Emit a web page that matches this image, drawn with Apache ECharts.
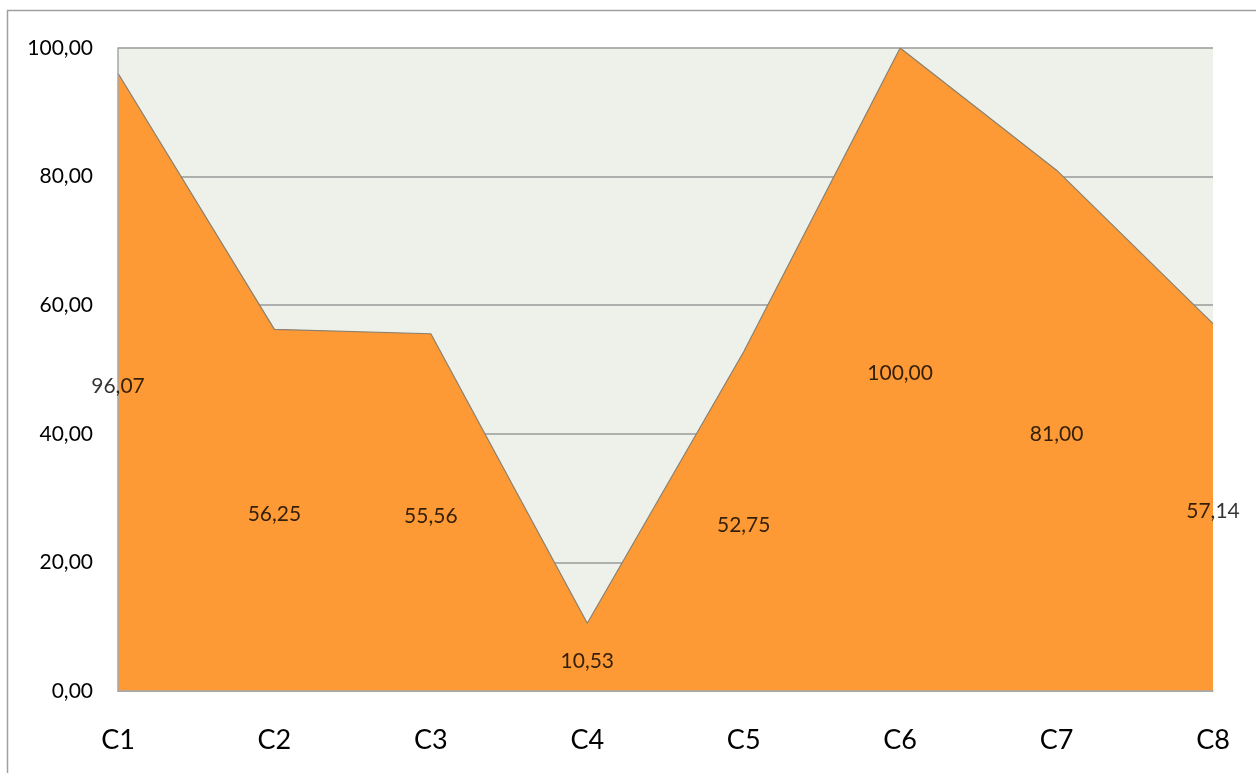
<!DOCTYPE html>
<html>
<head>
<meta charset="utf-8">
<style>
html,body{margin:0;padding:0;background:#fff;}
#chart{width:1256px;height:773px;}
</style>
<script src="https://cdn.jsdelivr.net/npm/echarts@6/dist/echarts.min.js"></script>
</head>
<body>
<div id="chart"></div>
<script>
var categories = ['C1','C2','C3','C4','C5','C6','C7','C8'];
var values = [96.07, 56.25, 55.56, 10.53, 52.75, 100.00, 81.00, 57.14];
var yTicks = [0, 20, 40, 60, 80, 100];

function fmt(v){ return v.toFixed(2).replace('.', ','); }

var labelPoints = values.map(function(v, i){ return [i, v / 2]; });

var chart = echarts.init(document.getElementById('chart'));
chart.setOption({
  animation: false,
  textStyle: { fontFamily: 'Lato, "Open Sans", sans-serif' },
  graphic: [
    { type: 'line', shape: { x1: 7, y1: 10.5, x2: 1256, y2: 10.5 }, style: { stroke: '#a0a0a0', lineWidth: 1.5 } },
    { type: 'line', shape: { x1: 7.5, y1: 10, x2: 7.5, y2: 773 }, style: { stroke: '#a0a0a0', lineWidth: 1.5 } }
  ],
  grid: { left: 118, right: 43, top: 48, bottom: 82, show: true, backgroundColor: '#EEF1E9', borderWidth: 0 },
  xAxis: {
    type: 'category',
    data: categories,
    boundaryGap: false,
    axisLine: { show: true, lineStyle: { color: '#a6a6a6', width: 1.5 } },
    axisTick: { show: false },
    axisLabel: { fontSize: 27, color: '#000', margin: 36 },
    splitLine: { show: false },
    z: 3
  },
  yAxis: [
    {
      type: 'value',
      min: yTicks[0],
      max: yTicks[yTicks.length - 1],
      interval: 20,
      axisLine: { show: false },
      axisTick: { show: false },
      axisLabel: { fontSize: 21, color: '#000', margin: 25, formatter: function(v){ return fmt(v); } },
      splitLine: { show: true, lineStyle: { color: '#9a9a9a', width: 1.5 } },
      z: 0
    },
    {
      type: 'value',
      position: 'left',
      min: yTicks[0],
      max: yTicks[yTicks.length - 1],
      interval: 20,
      axisLine: { show: true, onZero: false, lineStyle: { color: '#a6a6a6', width: 1.5 } },
      axisTick: { show: false },
      axisLabel: { show: false },
      splitLine: { show: false },
      z: 3
    }
  ],
  series: [
    {
      type: 'line',
      data: values,
      symbol: 'none',
      lineStyle: { color: '#8a8070', width: 1.2 },
      areaStyle: { color: '#FD9A35', opacity: 1 },
      z: 2
    },
    {
      type: 'scatter',
      data: labelPoints,
      symbolSize: 0,
      silent: true,
      label: {
        show: true,
        position: 'inside',
        offset: [0, 4],
        fontSize: 21,
        color: '#000',
        formatter: function(p){ return fmt(values[p.dataIndex]); }
      },
      z: 5
    }
  ]
});
</script>
</body>
</html>
